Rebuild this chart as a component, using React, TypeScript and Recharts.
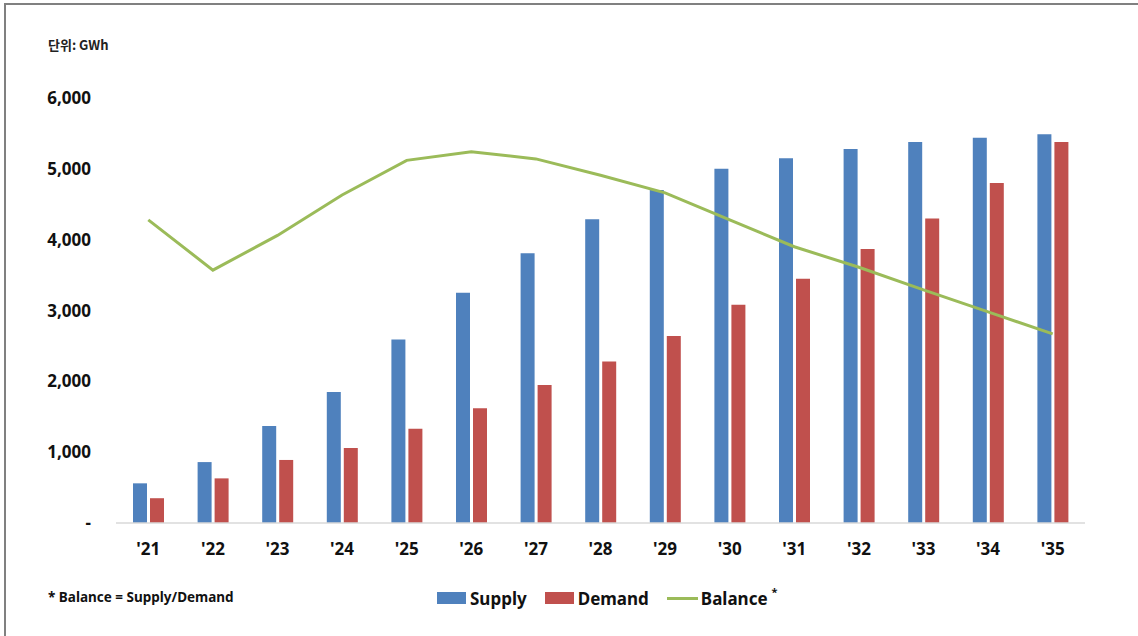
import React from 'react';
import { ComposedChart, Bar, Line, XAxis, YAxis } from 'recharts';

// Years on the category axis
const years = ["'21", "'22", "'23", "'24", "'25", "'26", "'27", "'28", "'29", "'30", "'31", "'32", "'33", "'34", "'35"];

// GWh per year
const supply = [560, 860, 1370, 1850, 2590, 3250, 3810, 4290, 4700, 5000, 5150, 5280, 5380, 5440, 5490];
const demand = [350, 630, 890, 1060, 1330, 1620, 1950, 2280, 2640, 3080, 3450, 3870, 4300, 4800, 5380];

// Supply/Demand balance, drawn on the GWh scale
const balance = [4280, 3570, 4060, 4630, 5120, 5240, 5140, 4910, 4660, 4280, 3900, 3610, 3290, 2980, 2670];

const yTicks = [0, 1000, 2000, 3000, 4000, 5000, 6000];

const rows = years.map((year, i) => ({
  year,
  supply: supply[i],
  demand: demand[i],
  balance: balance[i],
}));

const FONT = '"Noto Sans", "Noto Sans CJK KR", sans-serif';
const SUPPLY_COLOR = '#4F81BD';
const DEMAND_COLOR = '#C0504D';
const BALANCE_COLOR = '#9BBB59';

const tickStyle = { fill: '#111', fontSize: 17, fontWeight: 700, fontFamily: FONT };

function fmtY(v: number) {
  return v === 0 ? '-' : v.toLocaleString('en-US');
}

export default function App() {
  return (
    <div style={{ position: 'absolute', left: 0, top: 0, width: 1138, height: 636, background: '#fff', fontFamily: FONT }}>
      {/* frame */}
      <div style={{ position: 'absolute', left: 4, top: 3, right: 0, bottom: 0, borderTop: '2px solid #808080', borderLeft: '2px solid #808080' }} />

      <div style={{ position: 'absolute', left: 48, top: 35, fontSize: 13, fontWeight: 700, color: '#222', fontFamily: '"Noto Sans CJK KR", sans-serif' }}>
        단위: GWh
      </div>

      <ComposedChart
        width={1138}
        height={636}
        data={rows}
        margin={{ top: 98, right: 53, bottom: 73, left: 0 }}
        barSize={14}
        barGap={3}
      >
        <XAxis
          dataKey="year"
          height={40}
          tickLine={false}
          axisLine={{ stroke: '#D9D9D9', strokeWidth: 1.5 }}
          tickSize={0}
          tickMargin={20}
          tick={tickStyle}
          interval={0}
        />
        <YAxis
          width={116}
          domain={[0, 6000]}
          ticks={yTicks}
          axisLine={false}
          tickLine={false}
          tickSize={0}
          tickMargin={25}
          tick={tickStyle}
          tickFormatter={fmtY}
        />
        <Bar dataKey="supply" fill={SUPPLY_COLOR} isAnimationActive={false} />
        <Bar dataKey="demand" fill={DEMAND_COLOR} isAnimationActive={false} />
        <Line
          dataKey="balance"
          type="linear"
          stroke={BALANCE_COLOR}
          strokeWidth={3}
          dot={false}
          activeDot={false}
          isAnimationActive={false}
        />
      </ComposedChart>

      {/* legend */}
      <div style={{ position: 'absolute', left: 437, top: 586, height: 24, display: 'flex', alignItems: 'center', fontSize: 17, fontWeight: 700, color: '#111' }}>
        <span style={{ width: 29, height: 12, background: SUPPLY_COLOR, marginRight: 4 }} />
        <span style={{ marginRight: 18 }}>Supply</span>
        <span style={{ width: 29, height: 12, background: DEMAND_COLOR, marginRight: 4 }} />
        <span style={{ marginRight: 18 }}>Demand</span>
        <span style={{ width: 31, height: 3, background: BALANCE_COLOR, marginRight: 3 }} />
        <span>Balance</span>
        <span style={{ fontSize: 11, marginLeft: 4, alignSelf: 'flex-start', marginTop: -2 }}>*</span>
      </div>

      <div style={{ position: 'absolute', left: 48, top: 588, fontSize: 13.5, fontWeight: 700, color: '#111' }}>
        * Balance = Supply/Demand
      </div>
    </div>
  );
}
